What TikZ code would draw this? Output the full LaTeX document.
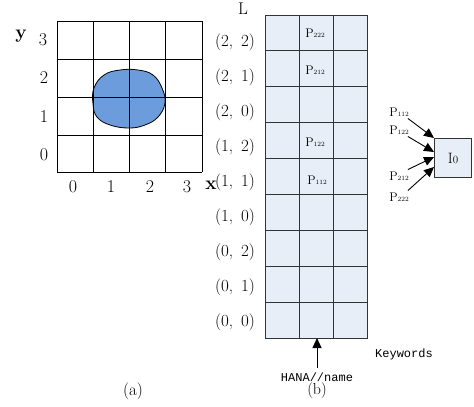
\documentclass[tikz,border=0pt]{standalone}
\usepackage{fontspec}
\setmonofont{Liberation Mono}
\usetikzlibrary{arrows.meta}
\definecolor{cellblue}{RGB}{232,238,248}
\definecolor{blobblue}{RGB}{108,156,220}
\begin{document}
\begin{tikzpicture}[x=1pt,y=-1pt,
  gridline/.style={draw=black,line width=1pt},
  cellbox/.style={draw=black!80,line width=1pt,fill=cellblue},
  axlbl/.style={font=\fontsize{18}{18}\selectfont,inner sep=0pt},
  rowlbl/.style={font=\fontsize{17}{17}\selectfont,inner sep=0pt},
  plbl/.style={font=\fontsize{12.5}{12.5}\selectfont,inner sep=0pt},
  mono/.style={font=\ttfamily\fontsize{12}{12}\selectfont,inner sep=0pt},
  arr/.style={-{Triangle[length=10pt,width=9pt]},line width=0.9pt}]
\useasboundingbox (0,0) rectangle (474,407);
% ---- (a) blob
\fill[blobblue,draw=black,line width=0.8pt] plot[smooth cycle,tension=0.7] coordinates
  {(94,88) (104,75) (120,70) (138,70) (153,75) (162,88) (165,103) (158,117) (145,125) (129,128) (110,125) (97,117) (93,104)};
% ---- (a) grid
\foreach \x in {57,93,129,165,202} \draw[gridline] (\x,21) -- (\x,172);
\foreach \y in {21,59,97,135,172} \draw[gridline] (57,\y) -- (202,\y);
% axis labels
\node[axlbl,font=\fontsize{19}{19}\selectfont\bfseries] (ylab) at (21,36) {y};
\node[axlbl] (y3) at (43,40) {3};
\node[axlbl] (y2) at (44,78) {2};
\node[axlbl] (y1) at (44,117) {1};
\node[axlbl] (y0) at (44,155) {0};
\node[axlbl] (x0) at (73,187) {0};
\node[axlbl] (x1) at (111,187) {1};
\node[axlbl] (x2) at (150,187) {2};
\node[axlbl] (x3) at (187,187) {3};
\node[axlbl,font=\fontsize{19}{19}\selectfont\bfseries] (xlab) at (211,185) {x};
\node[rowlbl] (capa) at (133,391) {(a)};
% ---- (b) grid
\foreach \r in {0,...,8}{
  \foreach \c in {0,1,2}{
    \pgfmathsetmacro{\xa}{265+34*\c}
    \pgfmathsetmacro{\ya}{15+35.9*\r}
    \draw[cellbox] (\xa,\ya) rectangle ++(34,35.9);
  }
}
\coordinate (gridbot) at (317,338);
\node[rowlbl] (L) at (243,9) {L};
\foreach \lab [count=\i from 0] in {{(2,\hspace{8pt}2)},{(2,\hspace{8pt}1)},{(2,\hspace{8pt}0)},{(1,\hspace{8pt}2)},{(1,\hspace{8pt}1)},{(1,\hspace{8pt}0)},{(0,\hspace{8pt}2)},{(0,\hspace{8pt}1)},{(0,\hspace{8pt}0)}}
  \node[rowlbl] (r\i) at (235,{42+35*\i}) {\lab};
\newcommand{\pl}[1]{P{\fontsize{6.5}{6.5}\selectfont #1}}
\node[plbl] (p222) at (315,33) {\pl{222}};
\node[plbl] (p212) at (315,70) {\pl{212}};
\node[plbl] (p122) at (315,142) {\pl{122}};
\node[plbl] (p112) at (317,180) {\pl{112}};
% ---- HANA arrow
\node[mono] (hana) at (317,377) {HANA//name};
\draw[arr] (hana.north) ++(0,-4) coordinate (hanatop) -- (gridbot);
\node[rowlbl,font=\fontsize{16}{16}\selectfont] (capb) at (317,391) {(b)};
\node[mono] (kw) at (404,354) {Keywords};
% ---- I0 box
\node[draw=black!80,line width=1pt,fill=cellblue,minimum width=37pt,minimum height=39pt,inner sep=0pt,font=\fontsize{15}{15}\selectfont] (io) at (453,158) {I{\fontsize{11}{11}\selectfont 0}};
\node[plbl] (q112) at (399,112) {\pl{112}};
\node[plbl] (q122) at (399,130) {\pl{122}};
\node[plbl] (q212) at (399,176) {\pl{212}};
\node[plbl] (q222) at (399,197) {\pl{222}};
\draw[arr] (q112.south east) ++(-1,2) -- (io.north west);
\draw[arr] (q122.south east) ++(-1,2) -- ([yshift=-14pt]io.north west);
\draw[arr] (q212.north east) ++(-1,-2) -- ([yshift=-19pt]io.north west);
\draw[arr] (q222.north east) ++(-1,-2) -- ([yshift=-29pt]io.north west);
\end{tikzpicture}
\end{document}
